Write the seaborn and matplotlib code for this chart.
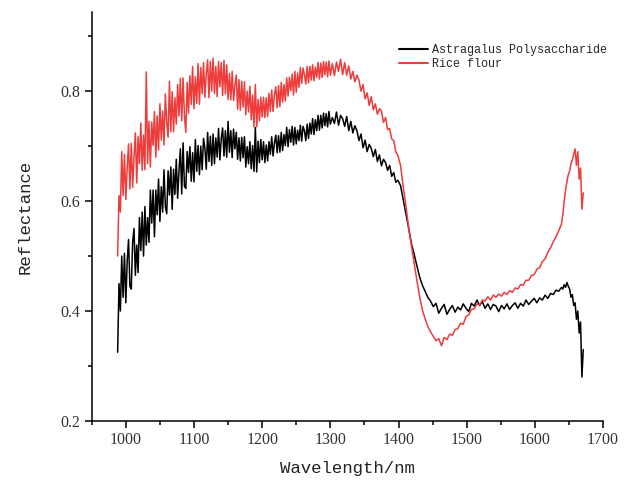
import numpy as np
import pandas as pd
import matplotlib
matplotlib.use("Agg")
import matplotlib.pyplot as plt
import seaborn as sns

# ---- data ----
wl_a1 = list(range(988, 1301, 2))     # 988 .. 1300
wl_a2 = list(range(1303, 1400, 3))    # 1303 .. 1399
wl_b = list(range(1403, 1640, 4))     # 1403 .. 1639
wl_c = list(range(1641, 1673, 2))     # 1641 .. 1671
wavelength = wl_a1 + wl_a2 + wl_b + wl_c

astragalus = [
    # 988 .. 1300 (step 2)
    0.325, 0.45, 0.40, 0.50, 0.425, 0.505, 0.415, 0.49, 0.53, 0.445,
    0.44, 0.525, 0.55, 0.465, 0.52, 0.47, 0.57, 0.51, 0.58, 0.50,
    0.59, 0.52, 0.57, 0.525, 0.62, 0.56, 0.62, 0.535, 0.62, 0.575,
    0.64, 0.563, 0.626, 0.58, 0.657, 0.59, 0.577, 0.655, 0.611, 0.662,
    0.585, 0.658, 0.612, 0.676, 0.605, 0.655, 0.695, 0.613, 0.706, 0.627,
    0.623, 0.69, 0.652, 0.699, 0.636, 0.688, 0.635, 0.712, 0.654, 0.701,
    0.648, 0.70, 0.657, 0.714, 0.696, 0.658, 0.725, 0.672, 0.718, 0.665,
    0.722, 0.668, 0.715, 0.68, 0.732, 0.675, 0.714, 0.733, 0.682, 0.728,
    0.68, 0.745, 0.689, 0.728, 0.679, 0.731, 0.695, 0.725, 0.676, 0.715,
    0.673, 0.716, 0.679, 0.717, 0.662, 0.699, 0.668, 0.708, 0.659, 0.701,
    0.654, 0.734, 0.653, 0.709, 0.67, 0.712, 0.675, 0.708, 0.67, 0.702,
    0.673, 0.708, 0.685, 0.717, 0.682, 0.706, 0.72, 0.688, 0.719, 0.689,
    0.725, 0.692, 0.721, 0.701, 0.734, 0.699, 0.73, 0.707, 0.736, 0.702,
    0.734, 0.704, 0.729, 0.71, 0.738, 0.709, 0.736, 0.728, 0.71, 0.74,
    0.714, 0.742, 0.722, 0.75, 0.721, 0.748, 0.728, 0.756, 0.729, 0.756,
    0.733, 0.76, 0.737, 0.759, 0.735, 0.763, 0.74,
    # 1303 .. 1399 (step 3)
    0.752, 0.741, 0.762, 0.738, 0.756, 0.75, 0.736, 0.754, 0.728, 0.745,
    0.724, 0.737, 0.728, 0.71, 0.722, 0.697, 0.711, 0.69, 0.703, 0.696,
    0.681, 0.694, 0.672, 0.684, 0.664, 0.676, 0.67, 0.656, 0.665, 0.645,
    0.652, 0.634, 0.638,
    # 1403 .. 1639 (step 4)
    0.628, 0.602, 0.575, 0.55, 0.522, 0.503, 0.482, 0.462, 0.447, 0.436,
    0.425, 0.418, 0.408, 0.414, 0.396, 0.405, 0.412, 0.394, 0.403, 0.41,
    0.398, 0.407, 0.402, 0.413, 0.405, 0.399, 0.414, 0.409, 0.42, 0.41,
    0.417, 0.405, 0.413, 0.403, 0.412, 0.409, 0.399, 0.41, 0.404, 0.413,
    0.403, 0.41, 0.415, 0.405, 0.414, 0.409, 0.42, 0.412, 0.418, 0.423,
    0.415, 0.424, 0.42, 0.429, 0.423, 0.432, 0.43, 0.438, 0.436, 0.443,
    # 1641 .. 1671 (step 2)
    0.44, 0.448, 0.443, 0.452, 0.445, 0.44, 0.425, 0.43, 0.41, 0.415,
    0.385, 0.40, 0.36, 0.38, 0.28, 0.33,
]

rice_flour = [
    # 988 .. 1300 (step 2)
    0.50, 0.61, 0.58, 0.69, 0.61, 0.685, 0.603, 0.661, 0.704, 0.622,
    0.705, 0.625, 0.68, 0.724, 0.633, 0.717, 0.668, 0.742, 0.656, 0.72,
    0.657, 0.835, 0.668, 0.745, 0.662, 0.744, 0.701, 0.763, 0.68, 0.755,
    0.693, 0.777, 0.711, 0.764, 0.702, 0.795, 0.743, 0.716, 0.818, 0.726,
    0.799, 0.726, 0.788, 0.74, 0.812, 0.755, 0.823, 0.746, 0.824, 0.755,
    0.725, 0.816, 0.76, 0.828, 0.776, 0.845, 0.768, 0.826, 0.778, 0.85,
    0.776, 0.843, 0.795, 0.852, 0.789, 0.831, 0.857, 0.788, 0.854, 0.80,
    0.86, 0.796, 0.845, 0.79, 0.854, 0.808, 0.852, 0.792, 0.856, 0.795,
    0.848, 0.785, 0.832, 0.784, 0.836, 0.783, 0.81, 0.829, 0.767, 0.821,
    0.765, 0.818, 0.771, 0.817, 0.757, 0.80, 0.762, 0.809, 0.748, 0.793,
    0.735, 0.812, 0.735, 0.785, 0.746, 0.789, 0.753, 0.789, 0.752, 0.788,
    0.754, 0.796, 0.763, 0.802, 0.763, 0.794, 0.808, 0.77, 0.81, 0.772,
    0.816, 0.78, 0.812, 0.782, 0.824, 0.791, 0.825, 0.801, 0.831, 0.793,
    0.836, 0.798, 0.833, 0.807, 0.843, 0.814, 0.842, 0.83, 0.813, 0.845,
    0.815, 0.845, 0.82, 0.848, 0.819, 0.844, 0.825, 0.852, 0.822, 0.851,
    0.825, 0.854, 0.83, 0.853, 0.826, 0.855, 0.829,
    # 1303 .. 1399 (step 3)
    0.85, 0.828, 0.853, 0.836, 0.858, 0.83, 0.852, 0.829, 0.846, 0.822,
    0.836, 0.817, 0.829, 0.82, 0.80, 0.812, 0.786, 0.797, 0.774, 0.79,
    0.766, 0.777, 0.758, 0.768, 0.764, 0.743, 0.752, 0.73, 0.732, 0.713,
    0.71, 0.69, 0.683,
    # 1403 .. 1639 (step 4)
    0.665, 0.625, 0.59, 0.55, 0.518, 0.486, 0.455, 0.426, 0.402, 0.386,
    0.372, 0.362, 0.354, 0.346, 0.35, 0.337, 0.352, 0.348, 0.358, 0.356,
    0.366, 0.368, 0.378, 0.376, 0.39, 0.393, 0.403, 0.404, 0.413, 0.411,
    0.42, 0.418, 0.426, 0.42, 0.429, 0.425, 0.431, 0.427, 0.434, 0.43,
    0.437, 0.434, 0.442, 0.44, 0.448, 0.447, 0.456, 0.456, 0.465, 0.466,
    0.476, 0.479, 0.49, 0.495, 0.507, 0.515, 0.526, 0.535, 0.546, 0.558,
    # 1641 .. 1671 (step 2)
    0.575, 0.60, 0.62, 0.635, 0.648, 0.655, 0.668, 0.675, 0.685, 0.695,
    0.665, 0.69, 0.64, 0.66, 0.585, 0.615,
]

series_names = ["Astragalus Polysaccharide", "Rice flour"]
series_colors = ["#000000", "#EE3B3B"]
x_ticks = [1000, 1100, 1200, 1300, 1400, 1500, 1600, 1700]
y_ticks = [0.2, 0.4, 0.6, 0.8]

df = pd.concat([
    pd.DataFrame({"Wavelength": wavelength, "Reflectance": astragalus,
                  "Sample": series_names[0]}),
    pd.DataFrame({"Wavelength": wavelength, "Reflectance": rice_flour,
                  "Sample": series_names[1]}),
], ignore_index=True)

# ---- style ----
sns.set_style("ticks")
plt.rcParams["font.family"] = ["Liberation Serif", "DejaVu Serif"]

fig = plt.figure(figsize=(6.30, 4.83), dpi=100)
ax = fig.add_axes([0.1456, 0.1284, 0.8116, 0.8468])

sns.lineplot(data=df, x="Wavelength", y="Reflectance", hue="Sample",
             palette=dict(zip(series_names, series_colors)),
             estimator=None, linewidth=1.1, ax=ax)

ax.set_xlim(950, 1700)
ax.set_ylim(0.2, 0.944)
ax.set_xticks(x_ticks)
ax.set_xticks([950] + [1050 + 100 * i for i in range(7)], minor=True)
ax.set_yticks(y_ticks)
ax.set_yticks([0.3, 0.5, 0.7, 0.9], minor=True)
ax.set_yticklabels([f"{v:.1f}" for v in y_ticks])

for s in ["top", "right"]:
    ax.spines[s].set_visible(False)
for s in ["left", "bottom"]:
    ax.spines[s].set_linewidth(1.1)
    ax.spines[s].set_color("black")

ax.tick_params(which="major", direction="out", length=5, width=1.1,
               labelsize=11.5, colors="black", labelcolor="#333333", pad=3)
ax.tick_params(which="minor", direction="out", length=3, width=1.1,
               colors="black")

mono = ["Liberation Mono", "DejaVu Sans Mono"]
ax.set_xlabel("Wavelength/nm", fontsize=12.5, family=mono, color="#222222",
              labelpad=9.5)
ax.set_ylabel("Reflectance", fontsize=12.5, family=mono, color="#222222",
              labelpad=20)

leg = ax.legend(loc="upper left", bbox_to_anchor=(0.59, 0.935),
                frameon=False, handlelength=2.4, handletextpad=0.4,
                labelspacing=0.15, borderpad=0.0,
                prop={"family": mono, "size": 8.5})
for line in leg.get_lines():
    line.set_linewidth(1.5)

fig.savefig("out.png", dpi=100)
